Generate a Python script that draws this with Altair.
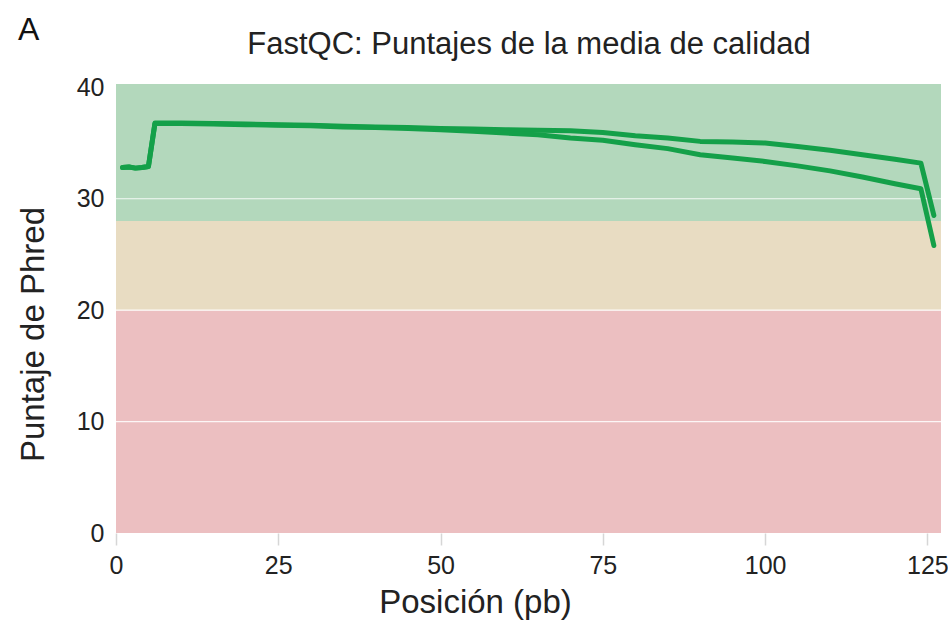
import altair as alt
import pandas as pd

# Per-base mean Phred quality for the two reads
positions = [1, 2, 3, 4, 5, 6, 8, 10, 15, 20, 25, 30, 35, 40, 45, 50, 55, 60,
             65, 70, 75, 80, 85, 90, 95, 100, 105, 110, 115, 120, 124, 126]
read1 = [32.8, 32.85, 32.75, 32.8, 32.9, 36.8, 36.8, 36.8, 36.75, 36.7, 36.65,
         36.6, 36.5, 36.45, 36.4, 36.3, 36.25, 36.2, 36.15, 36.1, 35.95, 35.65,
         35.45, 35.15, 35.1, 35.0, 34.7, 34.35, 33.95, 33.55, 33.2, 28.5]
read2 = [32.8, 32.85, 32.75, 32.8, 32.9, 36.75, 36.75, 36.75, 36.7, 36.65, 36.6,
         36.55, 36.45, 36.4, 36.3, 36.2, 36.05, 35.9, 35.75, 35.45, 35.25, 34.85,
         34.5, 33.95, 33.65, 33.35, 32.95, 32.5, 31.95, 31.35, 30.9, 25.8]

# Quality zones (bad / acceptable / good)
band_low = [0, 20, 28]
band_high = [20, 28, 40.3]
band_color = ["#ecbfc1", "#e8dcc2", "#b3d8bc"]

title_text = "FastQC: Puntajes de la media de calidad"
panel_letter = "A"

x_max = 127.1
y_max = 40.3
font = "Liberation Sans"

lines = pd.DataFrame({
    "pos": positions * 2,
    "q": read1 + read2,
    "muestra": ["R1"] * len(positions) + ["R2"] * len(positions),
})
bands = pd.DataFrame({"lo": band_low, "hi": band_high, "c": band_color})

x_scale = alt.Scale(domain=[0, x_max], nice=False, zero=False)
y_scale = alt.Scale(domain=[0, y_max], nice=False)

zones = alt.Chart(bands).mark_rect(opacity=1).encode(
    x=alt.value(0),
    x2=alt.value(825),
    y=alt.Y("lo:Q", scale=y_scale,
            axis=alt.Axis(values=[0, 10, 20, 30, 40], grid=False, ticks=False,
                          domain=False, labelPadding=12, labelFontSize=25,
                          labelFont=font, labelColor="#222",
                          title="Puntaje de Phred", titleFont=font,
                          titleFontSize=33, titleFontWeight="normal",
                          titleColor="#222", titleX=-66, titleY=250)),
    y2="hi:Q",
    color=alt.Color("c:N", scale=None),
)

grid = alt.Chart(pd.DataFrame({"g": [10, 20, 30]})).mark_rule(
    color="white", strokeWidth=1.2, opacity=0.85
).encode(y=alt.Y("g:Q", scale=y_scale), x=alt.value(0), x2=alt.value(825))

curves = alt.Chart(lines).mark_line(
    color="#14a049", strokeWidth=5, strokeJoin="round", strokeCap="round", clip=True
).encode(
    x=alt.X("pos:Q", scale=x_scale,
            axis=alt.Axis(values=[0, 25, 50, 75, 100, 125], grid=False,
                          domain=False, ticks=True, tickSize=12,
                          tickColor="#d6d6d6", tickWidth=1.5, labelPadding=8,
                          labelFlush=False,
                          labelFontSize=25, labelFont=font, labelColor="#222",
                          title="Posición (pb)", titleFont=font,
                          titleFontSize=33, titleFontWeight="normal",
                          titleColor="#222", titleX=359, titleY=53)),
    y=alt.Y("q:Q", scale=y_scale),
    detail="muestra:N",
)

heading = alt.Chart(pd.DataFrame({"t": [title_text]})).mark_text(
    font=font, fontSize=31, align="center", baseline="alphabetic", color="#222"
).encode(text="t:N", x=alt.value(413), y=alt.value(-30))

panel = alt.Chart(pd.DataFrame({"t": [panel_letter]})).mark_text(
    font=font, fontSize=32, align="left", baseline="alphabetic", color="#111"
).encode(text="t:N", x=alt.value(-98), y=alt.value(-44))

chart = alt.layer(zones, grid, curves, heading, panel).properties(
    width=825,
    height=449,
    autosize=alt.AutoSizeParams(type="none"),
    padding={"left": 116, "top": 84, "right": 7, "bottom": 88},
).configure_view(stroke=None)

chart.save("out.html", embed_options={"renderer": "svg", "actions": False})
